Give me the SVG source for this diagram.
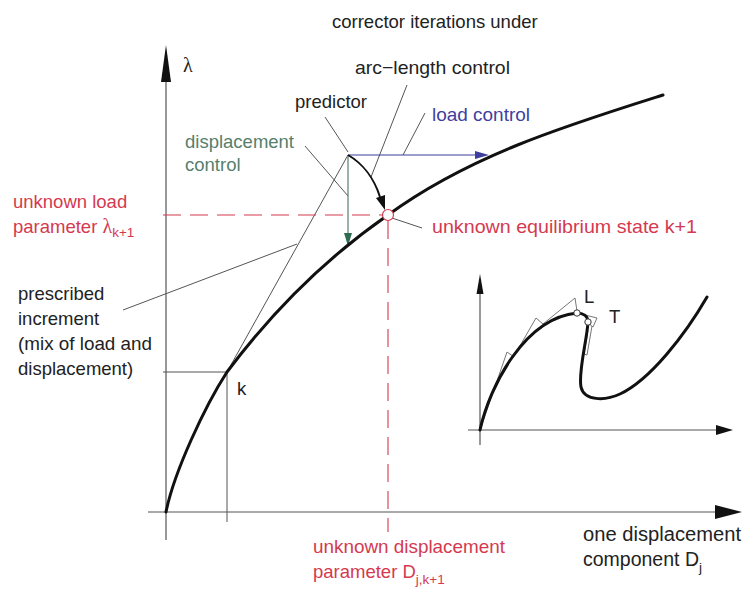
<svg xmlns="http://www.w3.org/2000/svg" width="743" height="591" viewBox="0 0 743 591">
<style>
text{font-family:"Liberation Sans",Arial,sans-serif;font-size:18.5px;fill:#222}
.red{fill:#d43a4f}
.blue{fill:#3e3e9e}
.green{fill:#55806c}
.thin{stroke:#555;stroke-width:1;fill:none}
.axis{stroke:#555;stroke-width:1.2;fill:none}
.curve{stroke:#111;stroke-width:3;fill:none;stroke-linecap:round;stroke-linejoin:round}
.dash{stroke:#d43a4f;stroke-width:1.1;fill:none;stroke-dasharray:18 9}
.gray{stroke:#777;stroke-width:1;fill:none}
.sub{font-size:13.5px}
.lam{font-family:"Liberation Serif","Times New Roman",serif}
.big{font-size:19.5px}
</style>
<rect width="743" height="591" fill="#fff"/>

<g id="axes">
<line class="axis" x1="166" y1="80" x2="166" y2="540"/>
<polygon points="166,45 171,82 161,82" fill="#111"/>
<line class="axis" x1="148" y1="512" x2="716" y2="512"/>
<polygon points="742,512 715,505 715,519" fill="#111"/>
<text x="183" y="72" class="lam" style="font-size:20px">λ</text>
</g>

<g id="connectors">
<line class="thin" x1="163" y1="372" x2="227" y2="372"/>
<line class="thin" x1="227" y1="372" x2="227" y2="522"/>
<line class="thin" x1="227" y1="372" x2="348" y2="155"/>
<line class="dash" x1="163" y1="215" x2="383" y2="215"/>
<line class="dash" x1="388" y1="221" x2="388" y2="532"/>
<line class="thin" x1="407" y1="85" x2="371" y2="177"/>
<line class="thin" x1="325" y1="117" x2="348" y2="152"/>
<line class="thin" x1="425" y1="113" x2="403" y2="155"/>
<line class="thin" x1="305" y1="146" x2="348" y2="196"/>
<line class="thin" x1="123" y1="310" x2="297" y2="244"/>
<line class="thin" x1="392" y1="218" x2="422" y2="228"/>
<line x1="348" y1="155" x2="476" y2="155" stroke="#3e3e9e" stroke-width="1.2"/>
<polygon points="489,155 475,151 475,159" fill="#3e3e9e"/>
<line x1="348" y1="155" x2="348" y2="234" stroke="#55806c" stroke-width="1.2"/>
<polygon points="348,246 344,233 352,233" fill="#2f6b50"/>
<path d="M348,155 C362,163 374,178 380,197" stroke="#111" stroke-width="2" fill="none"/>
<polygon points="385,210 376,198 385,195" fill="#111"/>
</g>

<g id="main-curve">
<path class="curve" d="M166,512 C174,472 205,406 227,372 C272,312 326,258 388,215 C470,155 568,125 663,95"/>
</g>

<g id="equilibrium">
<circle cx="388" cy="215" r="5.5" fill="#fff" stroke="#d43a4f" stroke-width="1.2"/>
</g>

<g id="labels">
<text x="332" y="28">corrector iterations under</text>
<text x="355" y="74" textLength="155" lengthAdjust="spacingAndGlyphs">arc−length control</text>
<text x="295" y="108">predictor</text>
<text x="432" y="121" class="blue" textLength="98" lengthAdjust="spacingAndGlyphs">load control</text>
<text x="185" y="148" class="green">displacement</text>
<text x="185" y="171" class="green">control</text>
<text x="13" y="208" class="red">unknown load</text>
<text x="13" y="233" class="red">parameter <tspan class="lam" style="font-size:20px">λ</tspan><tspan class="sub" dy="4">k+1</tspan></text>
<text x="432" y="233" class="red" textLength="265" lengthAdjust="spacingAndGlyphs">unknown equilibrium state k+1</text>
<text x="18" y="300">prescribed</text>
<text x="18" y="325">increment</text>
<text x="18" y="350" textLength="134" lengthAdjust="spacingAndGlyphs">(mix of load and</text>
<text x="18" y="375">displacement)</text>
<text x="237" y="395">k</text>
<text x="313" y="553" class="red" textLength="192" lengthAdjust="spacingAndGlyphs">unknown displacement</text>
<text x="313" y="578" class="red">parameter D<tspan class="sub" dy="6">j,k+1</tspan></text>
<text x="583" y="541" class="big" textLength="158" lengthAdjust="spacingAndGlyphs">one displacement</text>
<text x="583" y="566" class="big">component D<tspan class="sub" dy="6">j</tspan></text>
</g>

<g id="inset">
<line class="axis" x1="480" y1="292" x2="480" y2="445"/>
<polygon points="480,274 483.5,294 476.5,294" fill="#111"/>
<line class="axis" x1="468" y1="430" x2="718" y2="430"/>
<polygon points="733,430 716,425 716,435" fill="#111"/>
<polyline class="gray" points="480,430 507,352 514,357"/>
<polyline class="gray" points="513,358 536,318 543,324"/>
<polyline class="gray" points="543,324 575,298 577,311"/>
<polyline class="gray" points="577,313 597,318 593,327 588,323"/>
<polyline class="gray" points="592,326 587,355 584,354 588,330"/>
<path class="curve" d="M480,430 C490,385 525,318 577,313 C583,313 588,316 588,322 C587,340 578,372 581,387 C584,401 605,401 620,394 C650,380 685,335 707,297"/>
<circle cx="577" cy="313" r="3.2" fill="#fff" stroke="#333" stroke-width="1"/>
<circle cx="588" cy="322" r="3.2" fill="#fff" stroke="#333" stroke-width="1"/>
<text x="584" y="303">L</text>
<text x="609" y="323">T</text>
</g>
</svg>
